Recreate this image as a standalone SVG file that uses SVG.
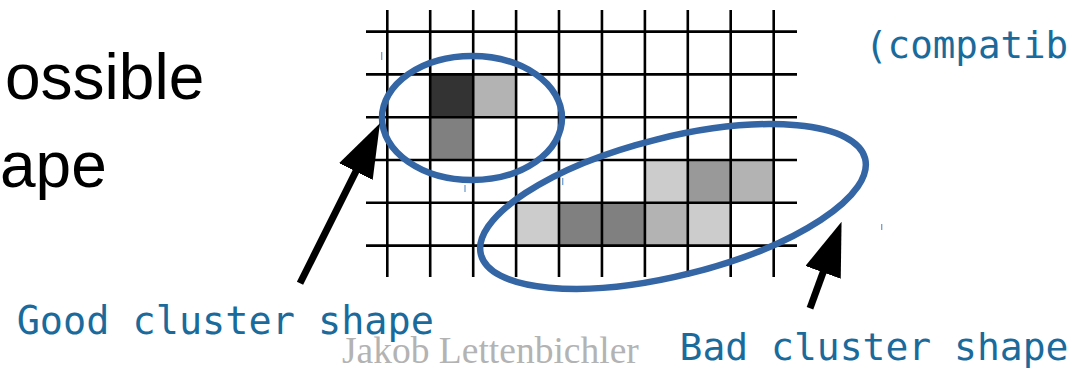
<svg xmlns="http://www.w3.org/2000/svg" width="1072" height="369" viewBox="0 0 1072 369">
  <style>
    .bg { fill: #ffffff; }
    .grid line { stroke: #000000; stroke-width: 2.6; }
    .cell { stroke: none; }
    .c33 { fill: #333333; }
    .c80 { fill: #808080; }
    .c99 { fill: #999999; }
    .cb3 { fill: #b3b3b3; }
    .ccc { fill: #cccccc; }
    .cluster { fill: none; stroke: #3465a4; stroke-width: 6.5; }
    .arrow { stroke: #000000; stroke-width: 7; stroke-linecap: butt; fill: none; }
    .hand { font-family: "DejaVu Sans Mono", monospace; fill: #1a6b9c; }
    .title { font-family: "Liberation Sans", Arial, sans-serif; font-size: 64px; fill: #000000; }
    .author { font-family: "Liberation Serif", "Times New Roman", serif; font-size: 37.5px; fill: #b3b3b3; }
    .tick { stroke: #729fcf; stroke-width: 1.3; }
  </style>
  <defs>
    <marker id="head" markerUnits="userSpaceOnUse" markerWidth="56" markerHeight="40" viewBox="0 0 56 40" refX="10" refY="18.8" orient="auto">
      <path d="M0,0 L54,18.8 L0,37.6 Z" fill="#000000"/>
    </marker>
  </defs>
  <rect class="bg" x="0" y="0" width="1072" height="369"/>

  <g id="title-text">
    <text class="title" x="5" y="99">ossible</text>
    <text class="title" x="0" y="187">ape</text>
  </g>

  <g id="pixel-grid">
    <g id="cells">
      <rect class="cell c33" x="430.2" y="74.4" width="42.93" height="42.8"/>
      <rect class="cell cb3" x="473.2" y="74.4" width="42.93" height="42.8"/>
      <rect class="cell c80" x="430.2" y="117.2" width="42.93" height="42.8"/>
      <rect class="cell ccc" x="644.9" y="160" width="42.93" height="42.8"/>
      <rect class="cell c99" x="687.8" y="160" width="42.93" height="42.8"/>
      <rect class="cell cb3" x="730.7" y="160" width="42.93" height="42.8"/>
      <rect class="cell ccc" x="516.1" y="202.8" width="42.93" height="42.8"/>
      <rect class="cell c80" x="559" y="202.8" width="42.93" height="42.8"/>
      <rect class="cell c80" x="601.95" y="202.8" width="42.93" height="42.8"/>
      <rect class="cell cb3" x="644.9" y="202.8" width="42.93" height="42.8"/>
      <rect class="cell ccc" x="687.8" y="202.8" width="42.93" height="42.8"/>
    </g>
    <g class="grid">
      <line x1="387.3" y1="10" x2="387.3" y2="277"/>
      <line x1="430.2" y1="10" x2="430.2" y2="277"/>
      <line x1="473.2" y1="10" x2="473.2" y2="277"/>
      <line x1="516.1" y1="10" x2="516.1" y2="277"/>
      <line x1="559" y1="10" x2="559" y2="277"/>
      <line x1="601.95" y1="10" x2="601.95" y2="277"/>
      <line x1="644.9" y1="10" x2="644.9" y2="277"/>
      <line x1="687.8" y1="10" x2="687.8" y2="277"/>
      <line x1="730.7" y1="10" x2="730.7" y2="277"/>
      <line x1="773.7" y1="10" x2="773.7" y2="277"/>
      <line x1="366" y1="31.6" x2="797" y2="31.6"/>
      <line x1="366" y1="74.4" x2="797" y2="74.4"/>
      <line x1="366" y1="117.2" x2="797" y2="117.2"/>
      <line x1="366" y1="160" x2="797" y2="160"/>
      <line x1="366" y1="202.8" x2="797" y2="202.8"/>
      <line x1="366" y1="245.6" x2="797" y2="245.6"/>
    </g>
  </g>

  <g id="ticks">
    <line class="tick" x1="381.7" y1="52" x2="381.7" y2="60"/>
    <line class="tick" x1="465" y1="185" x2="465" y2="192"/>
    <line class="tick" x1="562.7" y1="178" x2="562.7" y2="185"/>
    <line class="tick" x1="881.7" y1="224" x2="881.7" y2="230"/>
  </g>

  <g id="good-cluster">
    <ellipse class="cluster" cx="472" cy="118" rx="90" ry="62"/>
  </g>
  <g id="bad-cluster">
    <ellipse class="cluster" cx="673" cy="206.5" rx="198" ry="69" transform="rotate(-14 673 206.5)"/>
  </g>

  <g id="connectors">
    <line class="arrow" x1="300" y1="283.3" x2="360.3" y2="162.6" marker-end="url(#head)"/>
    <line class="arrow" x1="810" y1="308.3" x2="826.5" y2="263" marker-end="url(#head)"/>
  </g>

  <g id="label-compatible">
    <text class="hand" x="865" y="58" font-size="37.5">(compatib</text>
  </g>
  <g id="label-good">
    <text class="hand" x="16.7" y="333.5" font-size="38.5">Good cluster shape</text>
  </g>
  <g id="label-bad">
    <text class="hand" x="679.5" y="360" font-size="38">Bad cluster shape</text>
  </g>
  <g id="author">
    <text class="author" x="342" y="363">Jakob Lettenbichler</text>
  </g>
</svg>
